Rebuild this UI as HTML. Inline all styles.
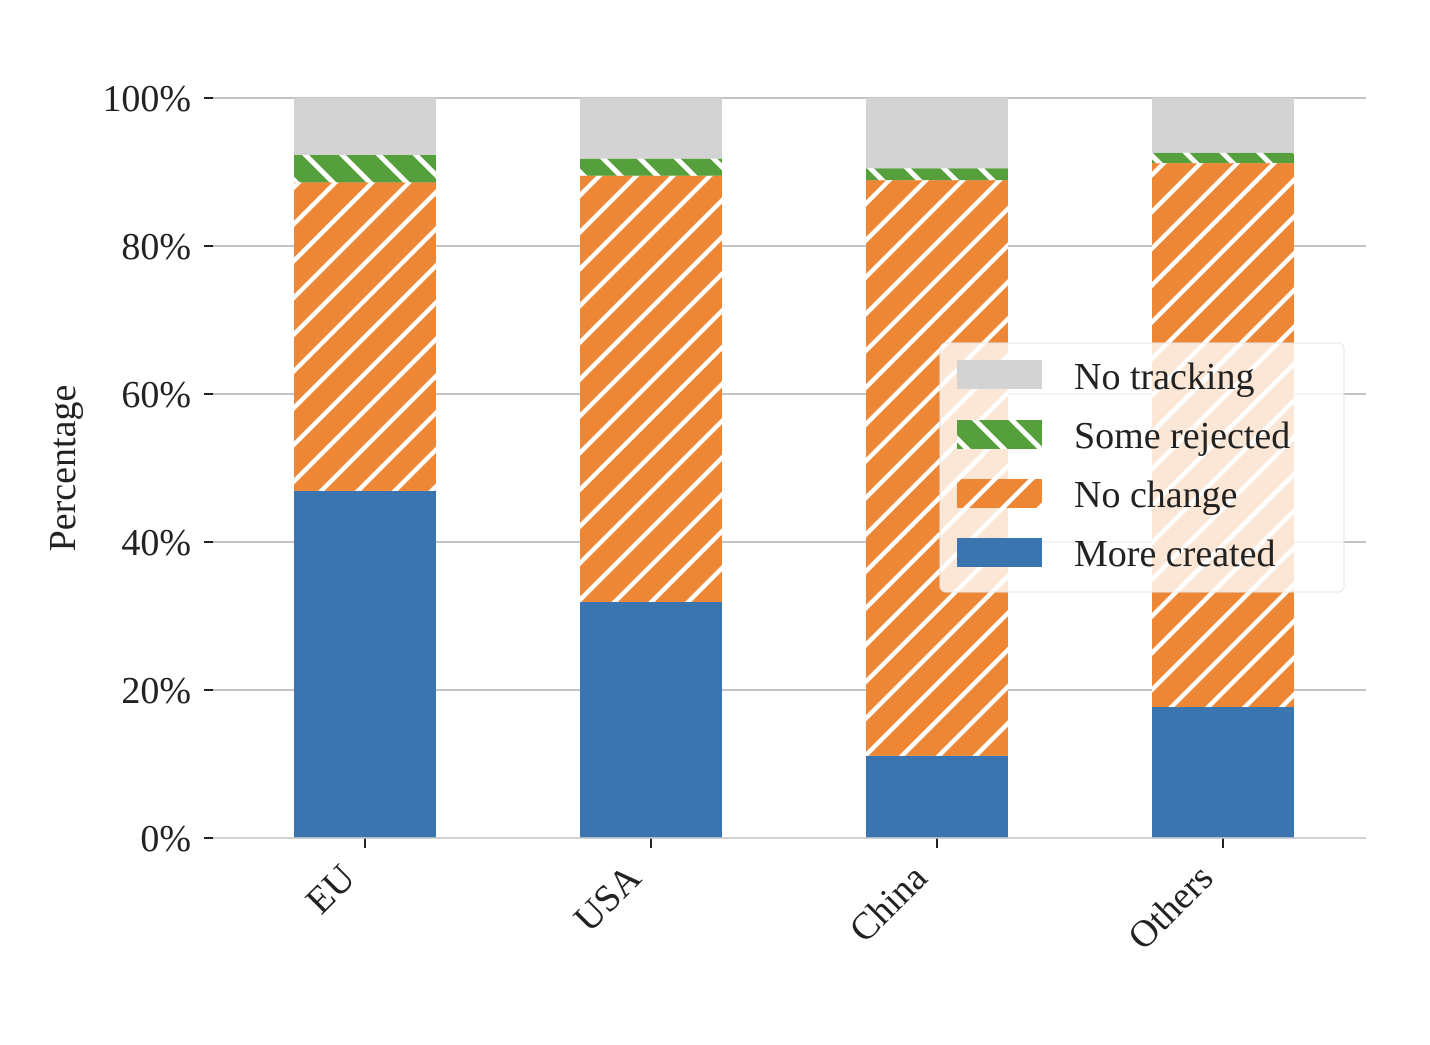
<!DOCTYPE html>
<html><head><meta charset="utf-8"><style>
body{margin:0;background:#fff}
svg text{font-family:"Liberation Serif",serif;fill:#222}
</style></head><body>
<svg width="1430" height="1040" xmlns="http://www.w3.org/2000/svg">
<defs>
<pattern id="hOrange" patternUnits="userSpaceOnUse" width="26" height="26" patternTransform="rotate(45)">
<rect width="26" height="26" fill="#ee8735"/><rect x="0" y="0" width="4.5" height="26" fill="#fff"/>
</pattern>
<pattern id="hGreen" patternUnits="userSpaceOnUse" width="26" height="26" patternTransform="rotate(-45)">
<rect width="26" height="26" fill="#55a03c"/><rect x="0" y="0" width="5" height="26" fill="#fff"/>
</pattern>
</defs>
<g id="grid"></g>
<g id="bars"></g>
<g id="axes"></g>
<text x="75" y="468" font-size="38" text-anchor="middle" transform="rotate(-90 75 468)">Percentage</text>
<g>
<rect x="940" y="343" width="404" height="249" rx="6" fill="#fff" fill-opacity="0.8" stroke="#e6e6e6"/>
<rect x="957" y="360" width="85" height="29" fill="#d3d3d3"/>
<text x="1074" y="389" font-size="38">No tracking</text>
<rect x="957" y="420" width="85" height="29" fill="url(#hGreen)"/>
<text x="1074" y="448" font-size="38">Some rejected</text>
<rect x="957" y="479" width="85" height="29" fill="url(#hOrange)"/>
<text x="1074" y="507" font-size="38">No change</text>
<rect x="957" y="538" width="85" height="29" fill="#3a75af"/>
<text x="1074" y="566" font-size="38">More created</text>
</g>
</svg>
<script>
const categories = ["EU","USA","China","Others"];
const moreCreated = [46.9, 31.9, 11.1, 17.7];
const noChange = [41.7, 57.6, 77.8, 73.5];
const someRejected = [3.7, 2.3, 1.6, 1.4];
const yTicks = [0,20,40,60,80,100];
const yTickLabels = ["0%","20%","40%","60%","80%","100%"];

const NS="http://www.w3.org/2000/svg";
const y0=838, y100=98, xL=213, xR=1366, firstC=365, step=286, bw=142;
const y=v=>y0-(y0-y100)*v/100;
const x=i=>firstC+i*step;
function mk(t,a,p){const e=document.createElementNS(NS,t);for(const k in a)e.setAttribute(k,a[k]);p.appendChild(e);return e;}
const grid=document.getElementById('grid'),bars=document.getElementById('bars'),axes=document.getElementById('axes');
yTicks.forEach((v,i)=>{
  const l=mk('line',{x1:xL,x2:xR,y1:y(v),y2:y(v),stroke:'#b0b0b0','stroke-width':1.6},grid);
  
  
  const t=mk('line',{x1:xL-9,x2:xL,y1:y(v),y2:y(v),stroke:'#222','stroke-width':2},axes);
  
  
  const tx=mk('text',{x:xL-22,y:y(v)+13,'font-size':38,'text-anchor':'end'},axes);
  tx.textContent=yTickLabels[i];
  
  
});
categories.forEach((c,i)=>{
  const cx=x(i), xl=cx-bw/2;
  const b1=moreCreated[i], b2=b1+noChange[i], b3=b2+someRejected[i];
  const segs=[[0,b1,'#3a75af','more-created'],[b1,b2,'url(#hOrange)','no-change'],[b2,b3,'url(#hGreen)','some-rejected'],[b3,100,'#d3d3d3','no-tracking']];
  segs.forEach(s=>{
    const r=mk('rect',{x:xl,width:bw,y:y(s[1]),height:y(s[0])-y(s[1]),fill:s[2]},bars);
    
    
  });
  const t=mk('line',{x1:cx,x2:cx,y1:y0,y2:y0+10,stroke:'#222','stroke-width':2},axes);
  
  
  const tx=mk('text',{x:cx-8,y:y0+42,'font-size':38,'text-anchor':'end',transform:`rotate(-45 ${cx-8} ${y0+42})`},axes);
  tx.textContent=c;
  
  
});
const ax=mk('line',{x1:xL,x2:xR,y1:y0,y2:y0,stroke:'#d0d0d0','stroke-width':1.6},axes);


</script>
</body></html>
